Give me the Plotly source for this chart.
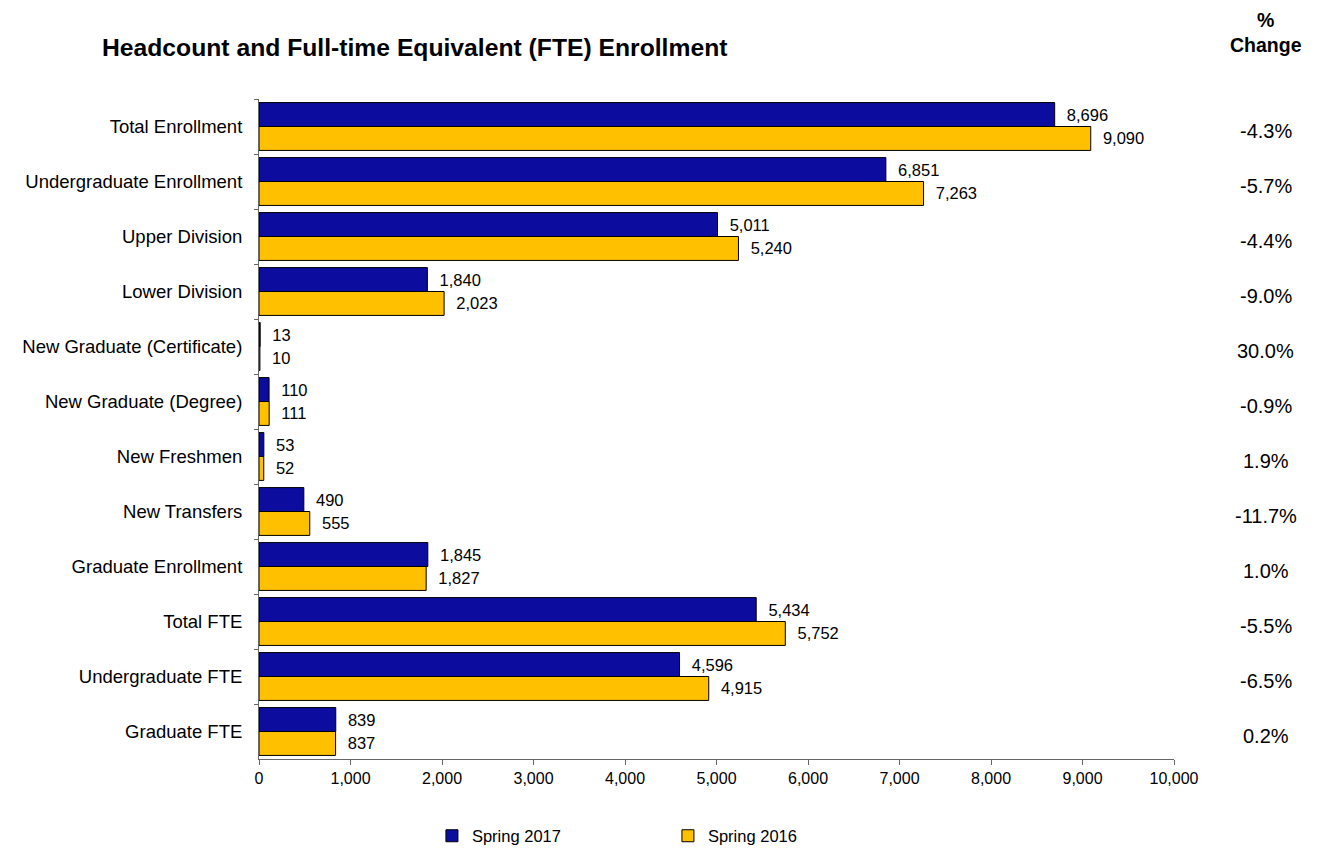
import plotly.graph_objects as go

categories = ["Total Enrollment", "Undergraduate Enrollment", "Upper Division", "Lower Division",
              "New Graduate (Certificate)", "New Graduate (Degree)", "New Freshmen", "New Transfers",
              "Graduate Enrollment", "Total FTE", "Undergraduate FTE", "Graduate FTE"]
spring_2017 = [8696, 6851, 5011, 1840, 13, 110, 53, 490, 1845, 5434, 4596, 839]
spring_2016 = [9090, 7263, 5240, 2023, 10, 111, 52, 555, 1827, 5752, 4915, 837]
pct_change = ["-4.3%", "-5.7%", "-4.4%", "-9.0%", "30.0%", "-0.9%", "1.9%", "-11.7%",
              "1.0%", "-5.5%", "-6.5%", "0.2%"]
x_ticks = [0, 1000, 2000, 3000, 4000, 5000, 6000, 7000, 8000, 9000, 10000]

FONT = "Liberation Sans, Arial, sans-serif"

fig = go.Figure()
fig.add_trace(go.Bar(
    y=categories, x=spring_2017, orientation="h", name="Spring 2017",
    marker=dict(color="#0C0C9E", line=dict(color="black", width=1)),
    texttemplate="  %{x:,}", textposition="outside",
    textfont=dict(size=16.5, color="black", family=FONT), cliponaxis=False,
))
fig.add_trace(go.Bar(
    y=categories, x=spring_2016, orientation="h", name="Spring 2016",
    marker=dict(color="#FFC000", line=dict(color="black", width=1)),
    texttemplate="  %{x:,}", textposition="outside",
    textfont=dict(size=16.5, color="black", family=FONT), cliponaxis=False,
))

for cat, p in zip(categories, pct_change):
    fig.add_annotation(x=1.1005, xref="paper", y=cat, yref="y",
                       text=p, showarrow=False, font=dict(size=20, color="black", family=FONT),
                       xanchor="center", yshift=-4)

fig.add_annotation(x=1.1005, xref="paper", y=1.101, yref="paper",
                   text="<b>%<br>Change</b>", showarrow=False,
                   font=dict(size=19.5, family=FONT, color="black"), align="center",
                   xanchor="center", yanchor="middle")

fig.update_layout(
    width=1312, height=841,
    paper_bgcolor="white", plot_bgcolor="white",
    font=dict(family=FONT, color="black"),
    margin=dict(l=251, r=146, t=91, b=90, autoexpand=False),
    barmode="group", bargap=0.13, bargroupgap=0,
    title=dict(text="<b>Headcount and Full-time Equivalent (FTE) Enrollment</b>",
               x=94 / 1312, xanchor="left", y=1 - 39 / 841, yanchor="middle",
               font=dict(size=24.7, family=FONT, color="black")),
    legend=dict(orientation="h", x=0.189, xanchor="left", y=-0.1167, yanchor="middle",
                font=dict(size=16.5, family=FONT, color="black"),
                entrywidth=191, entrywidthmode="pixels", traceorder="normal"),
    showlegend=True,
)
fig.update_xaxes(range=[0, 10000], tickvals=x_ticks, tickformat=",", showgrid=False,
                 showline=True, linecolor="#666666", linewidth=1,
                 ticks="outside", ticklen=5, tickcolor="#666666",
                 tickfont=dict(size=16, family=FONT, color="black"), zeroline=False,
                 automargin=False)
fig.update_yaxes(autorange="reversed", showgrid=False, showline=True, linecolor="#666666",
                 linewidth=1, ticks="outside", ticklen=4, tickcolor="#666666",
                 tickson="boundaries", ticklabelstandoff=12,
                 tickfont=dict(size=18.5, family=FONT, color="black"), automargin=False)

fig.write_html("out.html")
